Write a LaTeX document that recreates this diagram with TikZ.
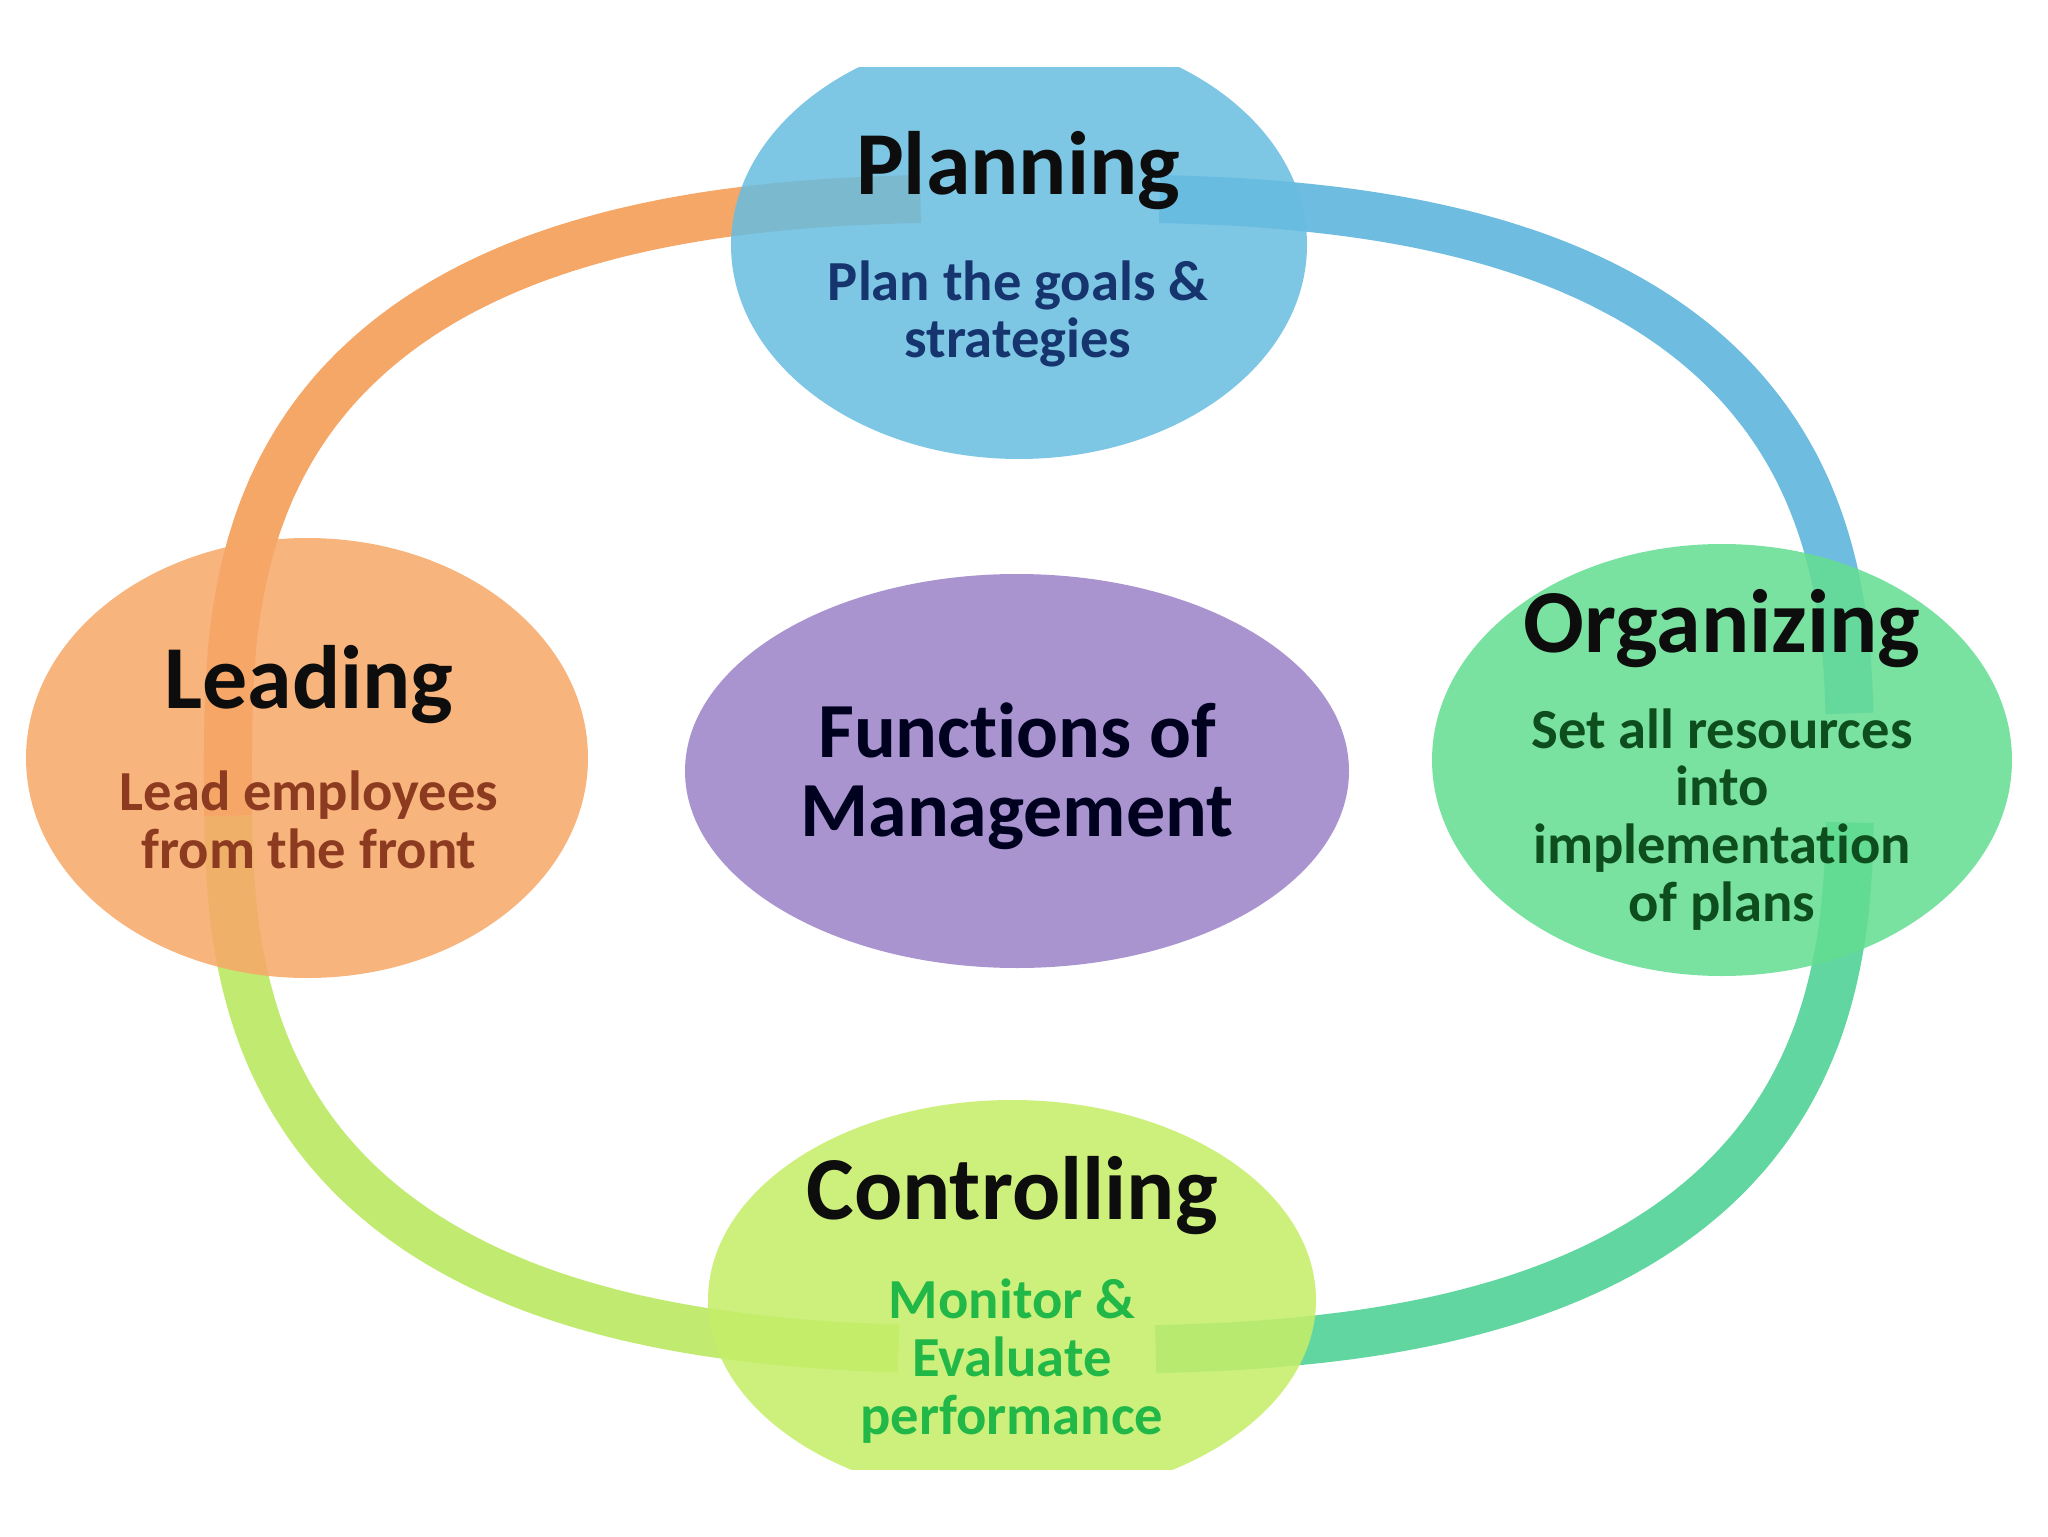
\documentclass[tikz,border=0pt]{standalone}
\usepackage{fontspec}
\setmainfont{Carlito}[Ligatures=NoCommon]
\usetikzlibrary{shapes.geometric}

\definecolor{planfill}{RGB}{104,189,224}
\definecolor{orgfill}{RGB}{100,221,145}
\definecolor{ctrlfill}{RGB}{197,238,104}
\definecolor{leadfill}{RGB}{247,168,104}
\definecolor{mgmtfill}{RGB}{169,148,208}
\definecolor{ringorange}{RGB}{245,167,104}
\definecolor{ringblue}{RGB}{110,188,224}
\definecolor{ringgreen}{RGB}{98,214,160}
\definecolor{ringlime}{RGB}{192,234,112}
\definecolor{planink}{RGB}{22,52,110}
\definecolor{orgink}{RGB}{14,78,30}
\definecolor{leadink}{RGB}{140,58,32}
\definecolor{ctrlink}{RGB}{34,184,72}

\newcommand{\RingX}{1039}
\newcommand{\RingY}{762}
\newcommand{\RingA}{811}
\newcommand{\RingB}{576}

\begin{document}
\begin{tikzpicture}[
  x=0.1mm,y=0.1mm,
  declare function={
    spow(\u)=((\u)<0 ? -1 : 1)*pow(abs(\u)+0.00001,0.72);
    ringx(\t)=\RingX+\RingA*spow(cos(\t));
    ringy(\t)=\RingY+\RingB*spow(sin(\t));
  },
  ring/.style={line width=4.8mm},
  bubble/.style={ellipse, draw=none, inner sep=0pt, fill opacity=0.86},
  title/.style={font=\fontsize{25.6}{30}\selectfont\bfseries, text=black!95, anchor=base},
  blurb/.style={font=\fontsize{16.1}{16.4}\selectfont\bfseries, align=center, anchor=base},
  hub/.style={font=\fontsize{22.2}{22.3}\selectfont\bfseries, align=center, anchor=base, text=black!88!blue}
]
\path[use as bounding box] (0,0) rectangle (2048,1536);

% The cycle ring, one coloured stretch per step
\draw[ring, ringorange] plot[domain=181.5:93.9, samples=90, variable=\t]
  ({ringx(\t)},{ringy(\t)});
\draw[ring, ringblue] plot[domain=86:2.5, samples=90, variable=\t]
  ({ringx(\t)},{ringy(\t)});
\draw[ring, ringgreen] plot[domain=-1.8:-86.2, samples=90, variable=\t]
  ({ringx(\t)},{ringy(\t)});
\draw[ring, ringlime] plot[domain=265:181.5, samples=90, variable=\t]
  ({ringx(\t)},{ringy(\t)});

\begin{scope}
  \clip (0,67) rectangle (2048,1468);

  % Bubbles
  \node[bubble, fill=planfill, minimum width=57.6mm, minimum height=42.8mm] (planning) at (1019,1291) {};
  \node[bubble, fill=orgfill, minimum width=58mm, minimum height=43.2mm] (organizing) at (1722,776) {};
  \node[bubble, fill=ctrlfill, minimum width=60.8mm, minimum height=40mm] (controlling) at (1012,236) {};
  \node[bubble, fill=leadfill, minimum width=56.2mm, minimum height=44mm] (leading) at (307,778) {};
  \node[bubble, fill=mgmtfill, fill opacity=1, minimum width=66.4mm, minimum height=39.4mm] (functions) at (1017,765) {};
\end{scope}

% Texts (a blurb sits on the baseline of its last line)
\node[title] (plantitle) at (1018,1341) {Planning};
\node[blurb, text=planink] (plantext) at (1018,1178) {Plan the goals \&\\strategies};

\node[title] (orgtitle) at (1722,884) {Organizing};
\node[blurb, text=orgink] (orgtext) at (1722,615)
  {Set all resources\\into\\implementation\\of plans};

\node[title] (ctrltitle) at (1012,317) {Controlling};
\node[blurb, text=ctrlink] (ctrltext) at (1012,102)
  {Monitor \&\\Evaluate\\performance};

\node[title] (leadtitle) at (309,828) {Leading};
\node[blurb, text=leadink] (leadtext) at (309,668) {Lead employees\\from the front};

\node[hub] (hubtext) at (1017,700) {Functions of\\Management};

\end{tikzpicture}
\end{document}
